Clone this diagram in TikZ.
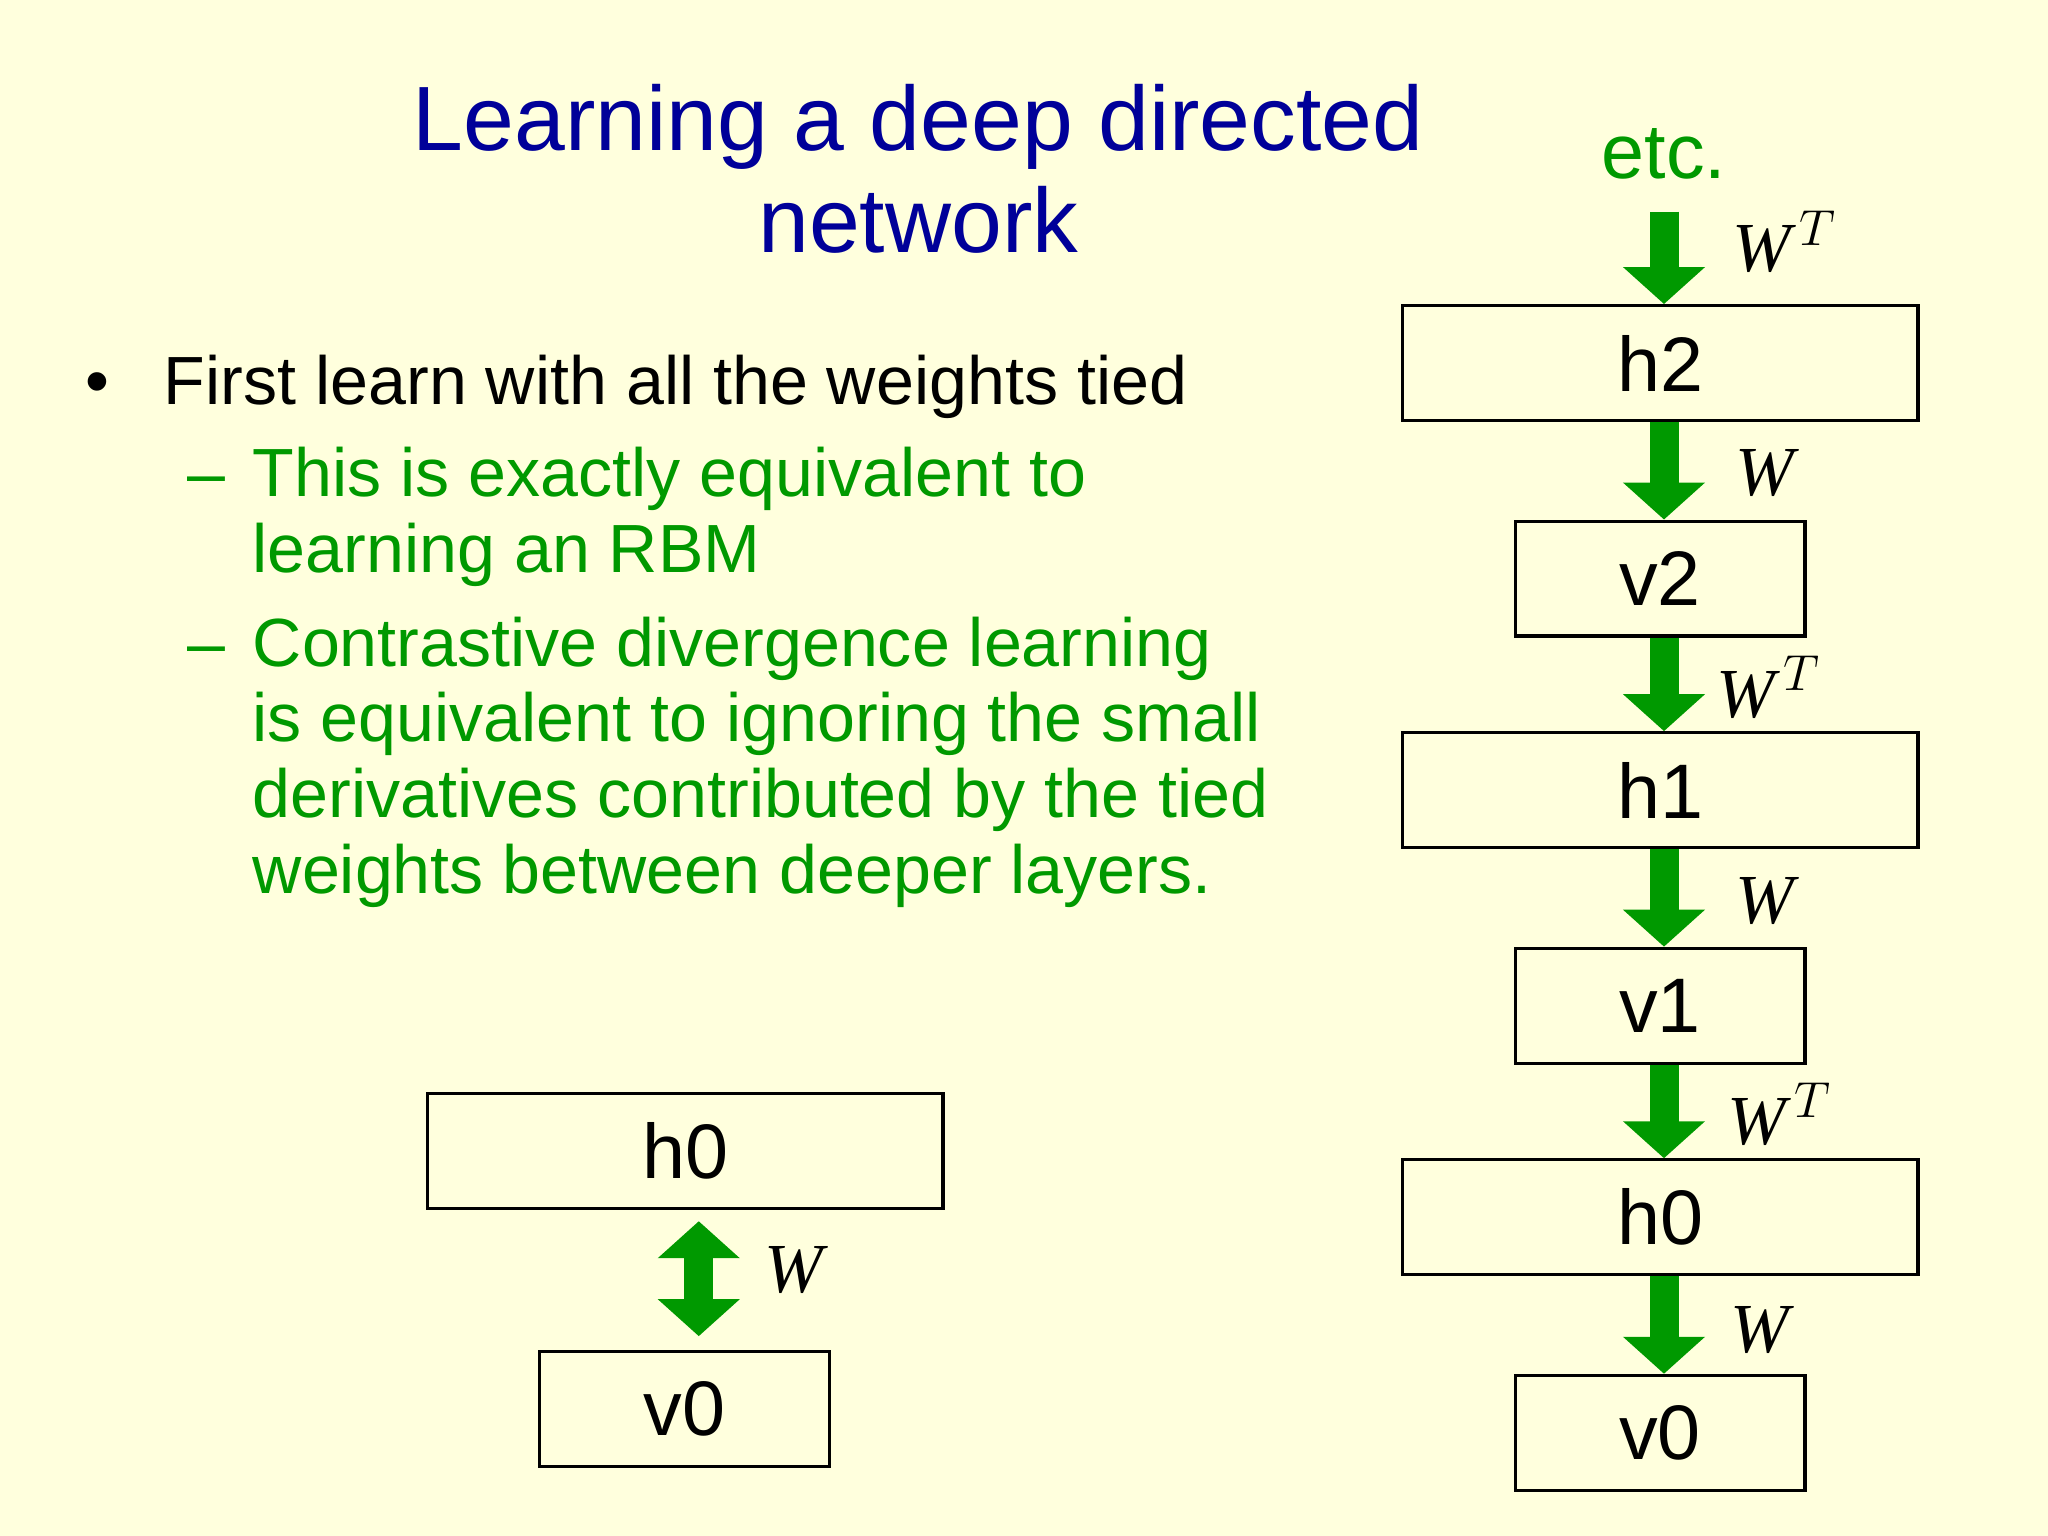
\documentclass[tikz,border=0pt]{standalone}
\usepackage{fontspec}
\setmainfont{Liberation Sans}
\newfontfamily\serifit{Liberation Serif}
\usetikzlibrary{arrows.meta}
\definecolor{bg}{RGB}{255,255,221}
\definecolor{tblue}{RGB}{0,0,153}
\definecolor{tgreen}{RGB}{0,153,0}
\begin{document}
\begin{tikzpicture}[x=0.01306cm,y=-0.01306cm,
  wide/.style={draw=black,line width=0.9pt,inner sep=0pt,minimum width={395*0.01306cm},minimum height={88*0.01306cm},font=\fontsize{22}{24}\selectfont},
  narrow/.style={wide,minimum width={222*0.01306cm}},
  garrow/.style={draw=tgreen,line width=0.29cm,-{Triangle[width=0.8cm,length=0.37cm]}},
  darrow/.style={draw=tgreen,line width=0.29cm,{Triangle[width=0.8cm,length=0.37cm]}-{Triangle[width=0.8cm,length=0.37cm]}},
  wlab/.style={font=\serifit\itshape\fontsize{20}{22}\selectfont,anchor=west,inner sep=0pt},
  body/.style={anchor=base west,inner sep=0pt,font=\fontsize{19.4}{21}\selectfont},
]
\fill[bg] (0,0) rectangle (1568,1176);
\useasboundingbox (0,0) rectangle (1568,1176);
% title
\node[anchor=base,inner sep=0pt,text=tblue,font=\fontsize{26}{28}\selectfont] (t1) at (703,115) {Learning a deep directed};
\node[anchor=base,inner sep=0pt,text=tblue,font=\fontsize{26}{28}\selectfont] (t2) at (703,193) {network};
% bullets
\node[body] (b0) at (65,310) {•};
\node[body] (b1) at (125,310) {First learn with all the weights tied};
\node[body,text=tgreen] (d1) at (143,380) {–};
\node[body,text=tgreen] (g1) at (193,380) {This is exactly equivalent to};
\node[body,text=tgreen] (g2) at (193,438) {learning an RBM};
\node[body,text=tgreen] (d2) at (143,510) {–};
\node[body,text=tgreen] (g3) at (193,510) {Contrastive divergence learning};
\node[body,text=tgreen] (g4) at (193,568) {is equivalent to ignoring the small};
\node[body,text=tgreen] (g5) at (193,626) {derivatives contributed by the tied};
\node[body,text=tgreen] (g6) at (193,684) {weights between deeper layers.};
% left pair
\node[wide] (lh0) at (524.5,881) {h0};
\node[narrow] (lv0) at (524,1079) {v0};
\draw[darrow] (535,935) -- (535,1023);
\node[wlab] (lw) at (585,972) {W};
% right column
\node[anchor=base,inner sep=0pt,text=tgreen,font=\fontsize{22}{24}\selectfont] (etc) at (1274,137) {etc.};
\node[wide] (h2) at (1271,278) {h2};
\node[narrow] (v2) at (1271,443) {v2};
\node[wide] (h1) at (1271,605) {h1};
\node[narrow] (v1) at (1271,770) {v1};
\node[wide] (h0) at (1271,932) {h0};
\node[narrow] (v0) at (1271,1097) {v0};
\coordinate (etop) at (1274,162);
\draw[garrow] (etop) -- (h2.north -| etop);
\draw[garrow] (h2.south -| etop) -- (v2.north -| etop);
\draw[garrow] (v2.south -| etop) -- (h1.north -| etop);
\draw[garrow] (h1.south -| etop) -- (v1.north -| etop);
\draw[garrow] (v1.south -| etop) -- (h0.north -| etop);
\draw[garrow] (h0.south -| etop) -- (v0.north -| etop);
\node[wlab] at (1326,185) {W$^{\,T}$};
\node[wlab] at (1328,362) {W};
\node[wlab] at (1314,526) {W$^{\,T}$};
\node[wlab] at (1328,690) {W};
\node[wlab] at (1322,853) {W$^{\,T}$};
\node[wlab] at (1324,1018) {W};
\end{tikzpicture}
\end{document}
